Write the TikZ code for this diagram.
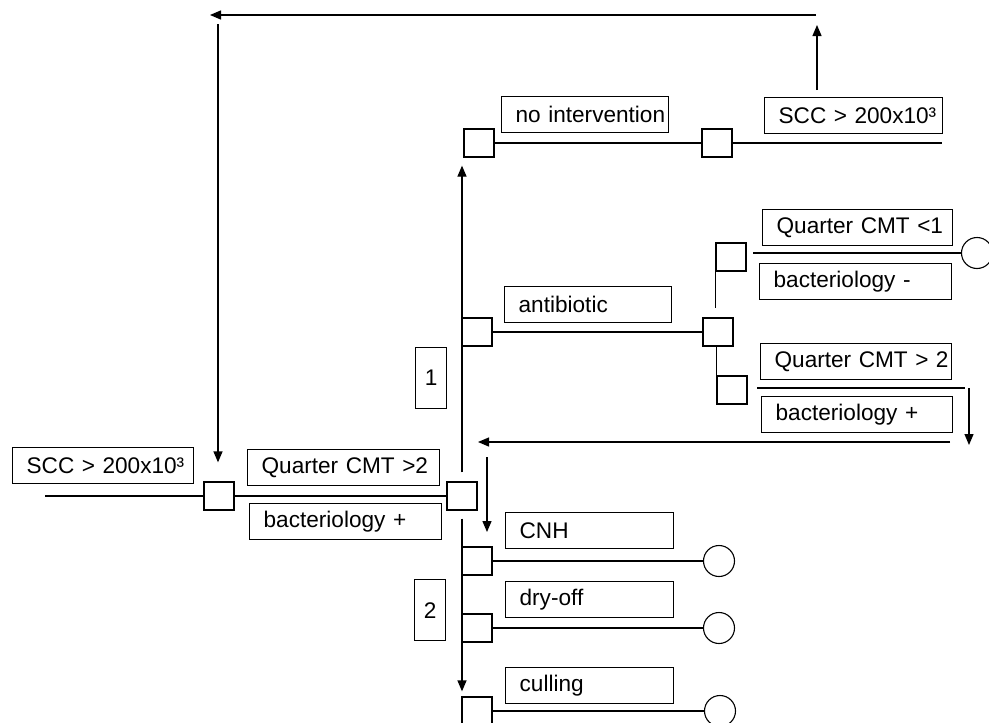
\documentclass[tikz,border=0pt]{standalone}
\usepackage{fontspec}
\setmainfont{Liberation Sans}
\usetikzlibrary{arrows.meta}

\begin{document}
\begin{tikzpicture}[
    x=1pt, y=-1pt,
    every node/.style={font=\fontsize{22.6}{26}\selectfont},
    box/.style={rectangle, draw, line width=1.3pt, anchor=north west, align=left, inner xsep=0pt, inner ysep=0pt, minimum height=36pt, text width=#1, execute at begin node={\hspace*{14pt}}},
    numbox/.style={rectangle, draw, line width=1.3pt, anchor=north west, minimum width=31pt, minimum height=61pt},
    sq/.style={rectangle, draw, line width=1.3pt, minimum width=30pt, minimum height=28pt},
    endc/.style={circle, draw, line width=1.1pt, minimum size=31pt, inner sep=0pt},
    link/.style={line width=1.3pt},
    arrow/.style={->, line width=1.3pt, >={Triangle[length=11pt,width=9pt]}}
]
\useasboundingbox (0,0) rectangle (989,723);

% Decision squares
\node[sq] (dec0) at (219,496) {};
\node[sq] (dec1) at (462,496) {};
\node[sq] (nointsq) at (479,143) {};
\node[sq] (nointsq2) at (717,143) {};
\node[sq] (antisq) at (477,332) {};
\node[sq] (antisq2) at (718,332) {};
\node[sq] (cursq) at (731,257) {};
\node[sq] (failsq) at (732,390) {};
\node[sq] (cnhsq) at (477,561) {};
\node[sq] (drysq) at (477,628) {};
\node[sq] (cullsq) at (477,711) {};

% End points
\node[endc] (curend) at (977,253) {};
\node[endc] (cnhend) at (719,561) {};
\node[endc] (dryend) at (719,628) {};
\node[endc] (cullend) at (720,711) {};

% Labels
\node[box=181pt] (scc1) at (12,447) {SCC > 200x10³};
\node[box=192pt] (qcmt) at (247,449) {Quarter CMT >2};
\node[box=192pt] (bact1) at (249,503) {bacteriology +};
\node[box=167pt] (noint) at (501,96) {no intervention};
\node[box=178pt] (scc2) at (764,97) {SCC > 200x10³};
\node[box=167pt] (antib) at (504,286) {antibiotic};
\node[box=190pt] (qless) at (762,209) {Quarter CMT <1};
\node[box=192pt] (bminus) at (759,263) {bacteriology -};
\node[box=191pt] (qmore) at (760,343) {Quarter CMT > 2};
\node[box=191pt] (bplus) at (761,396) {bacteriology +};
\node[box=168pt] (cnh) at (505,512) {CNH};
\node[box=168pt] (dry) at (505,581) {dry-off};
\node[box=168pt] (cull) at (505,667) {culling};
\node[numbox] (one) at (415,347) {1};
\node[numbox] (two) at (414,579) {2};

% Free ends
\coordinate (start) at (45,496);
\coordinate (sccend) at (942,143);
\coordinate (upS) at (817,90);
\coordinate (upE) at (817,25);
\coordinate (topR) at (816,15);
\coordinate (topL) at (210,15);
\coordinate (leftT) at (218,24);
\coordinate (qmoreS) at (757,388);
\coordinate (qmoreE) at (965,388);
\coordinate (backR) at (950,442);
\coordinate (backL) at (478,442);
\coordinate (cnhT) at (487,457);

% Lines
\draw[link] (start) -- (dec0);
\draw[link] (dec0) -- (dec1);
\draw[link] (nointsq) -- (nointsq2);
\draw[link] (nointsq2) -- (sccend);
\draw[link] (antisq) -- (antisq2);
\draw[link] (cursq.south west) -- ++(0,36);
\draw[link] (failsq.north west) -- ++(0,-28);
\draw[link] (curend.west) -- ++(-208,0);
\draw[link] (qmoreS) -- (qmoreE);
\draw[link] (cnhsq) -- (cnhend);
\draw[link] (drysq) -- (dryend);
\draw[link] (cullsq) -- (cullend);

% Arrows
\draw[arrow] ([yshift=9pt]dec1.north) -- ([yshift=-8pt]dec1.north |- nointsq.south);
\draw[arrow] ([yshift=-8pt]dec1.south) -- ([yshift=5pt]dec1.south |- cullsq.north);
\draw[arrow] (upS) -- (upE);
\draw[arrow] (topR) -- (topL);
\draw[arrow] (leftT) -- ([yshift=19pt]leftT |- dec0.north);
\draw[arrow] ([xshift=4pt]qmoreE) -- ++(0,57);
\draw[arrow] (backR) -- (backL);
\draw[arrow] (cnhT) -- ++(0,75);

\end{tikzpicture}
\end{document}
